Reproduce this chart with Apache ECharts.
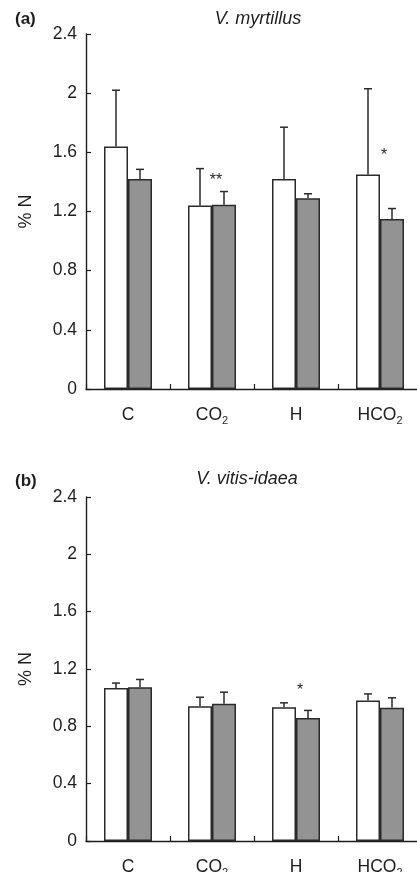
<!DOCTYPE html>
<html><head><meta charset="utf-8">
<script src="https://cdn.jsdelivr.net/npm/echarts@6/dist/echarts.min.js"></script>
<style>html,body{margin:0;padding:0;background:#fff}#c{width:417px;height:872px}</style>
</head><body><div id="c"></div>
<script>
// ---- data ----
const categories = ['C', 'CO2', 'H', 'HCO2'];
const yTicks = [0, 0.4, 0.8, 1.2, 1.6, 2, 2.4];
// (a) V. myrtillus
const aWhite = [1.64, 1.24, 1.42, 1.45];
const aWhiteErr = [0.38, 0.25, 0.35, 0.58];
const aGray = [1.42, 1.245, 1.29, 1.15];
const aGrayErr = [0.065, 0.09, 0.03, 0.07];
const aStars = ['', '**', '', '*'];
const aStarLevel = [null, 1.41, null, 1.58];
// (b) V. vitis-idaea
const bWhite = [1.068, 0.94, 0.934, 0.98];
const bWhiteErr = [0.034, 0.063, 0.03, 0.046];
const bGray = [1.073, 0.957, 0.859, 0.929];
const bGrayErr = [0.054, 0.081, 0.052, 0.07];
const bStars = ['', '', '*', ''];
const bStarLevel = [null, null, 1.05, null];

const FONT = 'Liberation Sans, Arial, sans-serif';
const INK = '#1e1e1e';
const GRAY = '#939393';
const BORDER = '#2b2b2b';

function catLabel(v) {
  return v.replace(/2$/, '{sub|2}');
}

function xAxis(gi) {
  return {
    type: 'category', gridIndex: gi, data: categories,
    axisLine: { lineStyle: { color: INK, width: 1.4 } },
    axisTick: { show: true, interval: 0, inside: true, length: 5, lineStyle: { color: INK, width: 1.2 } },
    axisLabel: {
      interval: 0, margin: 15, color: INK, fontFamily: FONT, fontSize: 17.5, lineHeight: 22,
      formatter: catLabel,
      rich: { sub: { fontSize: 11, fontFamily: FONT, color: INK, lineHeight: 22, verticalAlign: 'bottom' } }
    }
  };
}
function yAxis(gi) {
  return {
    type: 'value', gridIndex: gi, min: 0, max: 2.4, interval: 0.4,
    name: '% N', nameLocation: 'middle', nameGap: 51, nameRotate: 90,
    nameTextStyle: { color: INK, fontFamily: FONT, fontSize: 18 },
    axisLine: { show: true, lineStyle: { color: INK, width: 1.4 } },
    axisTick: { show: true, inside: true, length: 5, lineStyle: { color: INK, width: 1.2 } },
    splitLine: { show: false },
    axisLabel: {
      margin: 9, color: INK, fontFamily: FONT, fontSize: 17.5,
      formatter: v => { const t = yTicks.find(x => Math.abs(x - v) < 1e-6); return t === undefined ? '' : String(t); }
    }
  };
}
function bars(gi, vals, color) {
  return {
    type: 'bar', xAxisIndex: gi, yAxisIndex: gi, data: vals,
    barWidth: 24, barGap: '0%',
    itemStyle: { color: color, borderColor: BORDER, borderWidth: 1.5 },
    silent: true, animation: false
  };
}
function errBars(gi, vals, errs, side) {
  return {
    type: 'custom', xAxisIndex: gi, yAxisIndex: gi, z: 5, animation: false, silent: true,
    data: vals.map((v, i) => [i, v, v + errs[i]]),
    renderItem: (params, api) => {
      const p0 = api.coord([api.value(0), api.value(1)]);
      const p1 = api.coord([api.value(0), api.value(2)]);
      const x = p0[0] + side * 12;
      const st = { stroke: BORDER, lineWidth: 1.5 };
      return { type: 'group', children: [
        { type: 'line', shape: { x1: x, y1: p0[1], x2: x, y2: p1[1] }, style: st },
        { type: 'line', shape: { x1: x - 4, y1: p1[1], x2: x + 4, y2: p1[1] }, style: st }
      ] };
    }
  };
}
function stars(gi, marks, levels) {
  const d = [];
  marks.forEach((m, i) => { if (m) d.push([i, levels[i], m]); });
  return {
    type: 'custom', xAxisIndex: gi, yAxisIndex: gi, z: 6, animation: false, silent: true,
    data: d,
    renderItem: (params, api) => {
      const p = api.coord([api.value(0), api.value(1)]);
      return { type: 'text', style: { text: d[params.dataIndex][2], x: p[0] + 4, y: p[1],
        fill: INK, font: '16px ' + FONT, textAlign: 'center', textVerticalAlign: 'middle' } };
    }
  };
}

const chart = echarts.init(document.getElementById('c'), null, { renderer: 'canvas' });
const tA = { fontFamily: FONT, fontSize: 17, fontWeight: 'bold', color: INK };
const tV = { fontFamily: FONT, fontSize: 18, fontStyle: 'italic', fontWeight: 'normal', color: INK };
chart.setOption({
  backgroundColor: '#fff',
  animation: false,
  title: [
    { text: '(a)', left: 15, top: 11, padding: 0, textStyle: tA },
    { text: 'V. myrtillus', left: 258, top: 10, padding: 0, textAlign: 'center', textStyle: tV },
    { text: '(b)', left: 15, top: 473, padding: 0, textStyle: tA },
    { text: 'V. vitis-idaea', left: 247, top: 470, padding: 0, textAlign: 'center', textStyle: tV }
  ],
  grid: [
    { left: 86, top: 34, width: 336, height: 355, containLabel: false, outerBoundsMode: 'none' },
    { left: 86, top: 497, width: 336, height: 344, containLabel: false, outerBoundsMode: 'none' }
  ],
  xAxis: [xAxis(0), xAxis(1)],
  yAxis: [yAxis(0), yAxis(1)],
  series: [
    bars(0, aWhite, '#ffffff'), bars(0, aGray, GRAY),
    errBars(0, aWhite, aWhiteErr, -1), errBars(0, aGray, aGrayErr, 1),
    stars(0, aStars, aStarLevel),
    bars(1, bWhite, '#ffffff'), bars(1, bGray, GRAY),
    errBars(1, bWhite, bWhiteErr, -1), errBars(1, bGray, bGrayErr, 1),
    stars(1, bStars, bStarLevel)
  ]
});
</script></body></html>
